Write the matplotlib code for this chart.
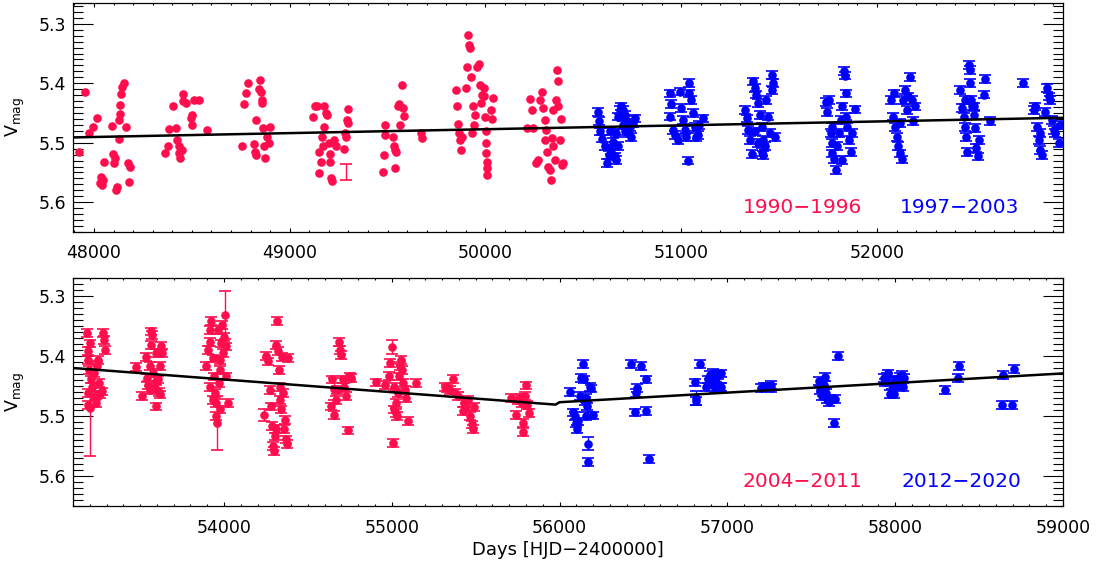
import matplotlib
matplotlib.use('Agg')
import matplotlib.pyplot as plt
from matplotlib.ticker import MultipleLocator, FormatStrFormatter

plt.rcParams['font.family'] = ['DejaVu Sans']
plt.rcParams['mathtext.default'] = 'regular'

red = '#ff0d4d'
blue = '#0000ff'

# ---- top panel: 1990-1996 (red), 1997-2003 (blue) ----
top_red_x = [47923, 47952, 47976, 47997, 48014, 48031, 48039, 48048, 48053, 48036,
             48092, 48099, 48102, 48108, 48114, 48119, 48128, 48130, 48133, 48135,
             48138, 48143, 48154, 48162, 48176, 48184, 48181,
             48363, 48377, 48384, 48406, 48420, 48423, 48432, 48437, 48440, 48449,
             48454, 48457, 48471, 48497, 48502, 48500, 48509, 48539, 48577,
             48758, 48768, 48776, 48785, 48819, 48823, 48828, 48828, 48843, 48850,
             48853, 48858, 48860, 48863, 48867, 48875, 48884, 48893, 48901,
             49118, 49130, 49140, 49148, 49152, 49160, 49174, 49177, 49183, 49191,
             49166, 49169, 49200, 49205, 49208, 49213, 49217, 49225, 49234,
             49276, 49282, 49288, 49294, 49299, 49297,
             49475, 49484, 49487, 49487, 49526, 49531, 49540, 49545, 49536, 49552,
             49560, 49565, 49573, 49577, 49582, 49672, 49676,
             49849, 49857, 49862, 49867, 49871, 49874, 49879, 49901, 49908, 49913,
             49917, 49922, 49927, 49932, 49935, 49939, 49947, 49959, 49969, 49973,
             49977, 49983, 49990, 49993, 49998, 50002, 50003, 50005, 50007, 50008,
             50007, 50027, 50032, 50037,
             50214, 50228, 50236, 50244, 50258, 50270, 50280, 50289, 50295, 50302,
             50304, 50309, 50316, 50321, 50329, 50333, 50338, 50343, 50346, 50355,
             50360, 50363, 50372, 50372, 50380, 50385, 50389, 50394]
top_red_y = [5.516, 5.415, 5.484, 5.474, 5.459, 5.567, 5.571, 5.562, 5.533, 5.557,
             5.471, 5.519, 5.534, 5.526, 5.579, 5.575, 5.494, 5.462, 5.451, 5.437,
             5.418, 5.407, 5.399, 5.473, 5.534, 5.540, 5.566,
             5.518, 5.505, 5.477, 5.439, 5.476, 5.496, 5.506, 5.518, 5.526, 5.512,
             5.418, 5.429, 5.433, 5.459, 5.453, 5.470, 5.428, 5.428, 5.479,
             5.506, 5.435, 5.416, 5.399, 5.502, 5.516, 5.521, 5.462, 5.410, 5.394,
             5.414, 5.428, 5.433, 5.476, 5.506, 5.526, 5.490, 5.501, 5.474,
             5.457, 5.438, 5.438, 5.515, 5.551, 5.532, 5.474, 5.438, 5.450, 5.453,
             5.490, 5.506, 5.501, 5.519, 5.533, 5.560, 5.564, 5.495, 5.506,
             5.511, 5.483, 5.490, 5.462, 5.444, 5.466,
             5.550, 5.520, 5.487, 5.470, 5.490, 5.505, 5.512, 5.515, 5.542, 5.439,
             5.435, 5.470, 5.403, 5.442, 5.455, 5.484, 5.492,
             5.412, 5.439, 5.468, 5.484, 5.495, 5.513, 5.490, 5.408, 5.372, 5.319,
             5.335, 5.341, 5.390, 5.484, 5.439, 5.470, 5.453, 5.372, 5.367, 5.403,
             5.433, 5.419, 5.422, 5.408, 5.456, 5.481, 5.501, 5.518, 5.532, 5.543,
             5.554, 5.445, 5.460, 5.425,
             5.476, 5.427, 5.445, 5.476, 5.534, 5.529, 5.428, 5.414, 5.442, 5.462,
             5.495, 5.478, 5.515, 5.540, 5.546, 5.562, 5.492, 5.445, 5.506, 5.529,
             5.428, 5.377, 5.397, 5.439, 5.495, 5.460, 5.537, 5.534]

# typical error bar drawn once in the top panel
top_ref_x = [49285]
top_ref_y = [5.549]
top_ref_err = [0.013]

top_blue_x = [50576, 50581, 50587, 50594, 50609, 50621, 50631, 50638, 50643, 50652,
              50660, 50669, 50677, 50686, 50694, 50703, 50711, 50720, 50728, 50737,
              50745, 50754, 50762, 50703, 50677, 50669, 50711,
              50944, 50949, 50941, 50958, 50966, 50992, 51000, 51008, 51017, 51025,
              51034, 51042, 51051, 51059, 51068, 51076, 51085, 51093, 51110, 50983, 51042,
              51324, 51334, 51343, 51350, 51359, 51367, 51375, 51384, 51392, 51401,
              51410, 51415, 51418, 51427, 51435, 51444, 51452, 51461, 51461, 51469,
              51478, 51375, 51392, 51410,
              51737, 51746, 51754, 51763, 51768, 51771, 51780, 51788, 51797, 51805,
              51814, 51823, 51831, 51834, 51840, 51848, 51857, 51865, 51874, 51887,
              51823, 51771, 51840,
              52070, 52080, 52087, 52092, 52101, 52109, 52118, 52126, 52135, 52143,
              52152, 52160, 52169, 52177, 52186, 52195, 52118,
              52425, 52433, 52442, 52450, 52455, 52459, 52468, 52473, 52476, 52480,
              52485, 52493, 52502, 52507, 52514, 52519, 52544, 52553, 52575, 52450, 52493,
              52746, 52800, 52809, 52817, 52826, 52834, 52843, 52860, 52868, 52877,
              52885, 52894, 52902, 52911, 52928, 52933, 52834]
top_blue_y = [5.448, 5.464, 5.481, 5.493, 5.505, 5.534, 5.520, 5.481, 5.512, 5.498,
              5.523, 5.484, 5.456, 5.445, 5.439, 5.445, 5.453, 5.462, 5.484, 5.473,
              5.490, 5.467, 5.459, 5.470, 5.506, 5.529, 5.481,
              5.417, 5.435, 5.456, 5.478, 5.487, 5.414, 5.442, 5.462, 5.478, 5.490,
              5.530, 5.417, 5.428, 5.450, 5.473, 5.490, 5.487, 5.470, 5.459, 5.495, 5.400,
              5.445, 5.459, 5.478, 5.495, 5.519, 5.397, 5.408, 5.419, 5.433, 5.453,
              5.473, 5.495, 5.520, 5.506, 5.428, 5.456, 5.484, 5.386, 5.411, 5.400,
              5.490, 5.481, 5.501, 5.515,
              5.431, 5.448, 5.428, 5.484, 5.501, 5.518, 5.528, 5.546, 5.506, 5.484,
              5.462, 5.439, 5.379, 5.387, 5.417, 5.473, 5.495, 5.515, 5.484, 5.444,
              5.529, 5.473, 5.456,
              5.428, 5.456, 5.417, 5.473, 5.490, 5.506, 5.518, 5.528, 5.428, 5.411,
              5.445, 5.422, 5.390, 5.428, 5.464, 5.439, 5.467,
              5.411, 5.442, 5.456, 5.473, 5.490, 5.516, 5.369, 5.378, 5.400, 5.428,
              5.439, 5.453, 5.475, 5.509, 5.523, 5.495, 5.419, 5.393, 5.464, 5.428, 5.439,
              5.400, 5.445, 5.439, 5.473, 5.495, 5.512, 5.520, 5.448, 5.408, 5.422,
              5.428, 5.462, 5.478, 5.484, 5.501, 5.470, 5.484]
top_blue_err = 0.0065

top_fit_x = [47893, 52950]
top_fit_y = [5.491, 5.458]

# ---- bottom panel: 2004-2011 (red), 2012-2020 (blue) ----
bot_red_x = [53185, 53190, 53192, 53196, 53190, 53190, 53204, 53210, 53216, 53223,
             53230, 53240, 53250, 53256, 53260, 53270, 53280, 53284, 53290, 53246,
             53474, 53514, 53534, 53542, 53548, 53558, 53563, 53570, 53567, 53577,
             53587, 53593, 53597, 53607, 53613, 53621, 53627, 53633, 53617, 53597, 53558,
             53895, 53905, 53915, 53925, 53919, 53935, 53938, 53944, 53950, 53954,
             53964, 53970, 53974, 53978, 53984, 53988, 53994, 53998, 54010, 54014,
             54024, 53915, 53935, 53974,
             54252, 54262, 54272, 54282, 54288, 54292, 54298, 54302, 54308, 54315,
             54321, 54327, 54331, 54341, 54347, 54351, 54355, 54361, 54367, 54375,
             54381, 54311, 54331,
             54639, 54645, 54653, 54665, 54673, 54685, 54689, 54698, 54708, 54718,
             54728, 54738, 54748, 54758,
             54907, 54962, 54982, 54990, 55006, 55016, 55022, 55026, 55030, 55036,
             55042, 55046, 55056, 55062, 55066, 55076, 55082, 55095, 55145, 55016,
             55314, 55328, 55344, 55364, 55374, 55394, 55424, 55433, 55443, 55453,
             55463, 55479, 55483, 55487,
             55712, 55742, 55751, 55771, 55777, 55781, 55783, 55791, 55797, 55805, 55817]
bot_red_y = [5.362, 5.392, 5.406, 5.423, 5.462, 5.481, 5.379, 5.439, 5.451, 5.428,
             5.467, 5.478, 5.406, 5.445, 5.464, 5.459, 5.362, 5.373, 5.390, 5.417,
             5.418, 5.466, 5.401, 5.437, 5.448, 5.417, 5.359, 5.365, 5.381, 5.428,
             5.453, 5.484, 5.395, 5.439, 5.460, 5.417, 5.383, 5.395, 5.464, 5.442, 5.456,
             5.417, 5.390, 5.356, 5.341, 5.376, 5.404, 5.434, 5.462, 5.478, 5.500,
             5.356, 5.445, 5.423, 5.406, 5.379, 5.348, 5.395, 5.368, 5.384, 5.434,
             5.478, 5.451, 5.473, 5.489,
             5.400, 5.409, 5.456, 5.484, 5.517, 5.550, 5.558, 5.534, 5.381, 5.341,
             5.392, 5.423, 5.451, 5.489, 5.401, 5.462, 5.522, 5.506, 5.539, 5.547,
             5.403, 5.522, 5.473,
             5.484, 5.439, 5.498, 5.473, 5.456, 5.376, 5.390, 5.398, 5.439, 5.451,
             5.467, 5.524, 5.434, 5.437,
             5.444, 5.448, 5.433, 5.411, 5.545, 5.451, 5.478, 5.495, 5.500, 5.462,
             5.434, 5.417, 5.406, 5.423, 5.445, 5.456, 5.470, 5.508, 5.445, 5.489,
             5.452, 5.454, 5.456, 5.438, 5.462, 5.467, 5.492, 5.478, 5.484, 5.473,
             5.500, 5.514, 5.521, 5.485,
             5.470, 5.498, 5.473, 5.469, 5.478, 5.511, 5.526, 5.466, 5.449, 5.482, 5.495]
bot_red_err = 0.0065

# red points with large error bars
bot_red_big_x = [53200, 53958, 54006, 54238, 55002, 54653]
bot_red_big_y = [5.487, 5.511, 5.332, 5.499, 5.385, 5.455]
bot_red_big_err = [0.079, 0.045, 0.040, 0.010, 0.012, 0.018]

bot_blue_x = [56060, 56080, 56089, 56095, 56103, 56109, 56119, 56129, 56139, 56143,
              56149, 56159, 56165, 56171, 56179, 56189, 56199, 56159,
              56427, 56447, 56457, 56461, 56487, 56513, 56517, 56533,
              56805, 56815, 56835, 56875, 56885, 56895, 56905, 56915, 56925, 56934,
              56944, 56954, 56960, 56960,
              57198, 57218, 57238, 57257, 57257,
              57545, 57554, 57564, 57574, 57584, 57590, 57594, 57604, 57614, 57634,
              57644, 57660, 57570,
              57931, 57941, 57950, 57960, 57970, 57980, 57990, 58000, 58010, 58026,
              58034, 58040, 58046, 58053,
              58297, 58376, 58382, 58634, 58644, 58697, 58709]
bot_blue_y = [5.460, 5.494, 5.500, 5.511, 5.521, 5.509, 5.466, 5.437, 5.413, 5.439,
              5.475, 5.500, 5.484, 5.577, 5.451, 5.454, 5.499, 5.470,
              5.413, 5.494, 5.462, 5.453, 5.416, 5.439, 5.492, 5.571,
              5.444, 5.475, 5.413, 5.451, 5.439, 5.431, 5.447, 5.428, 5.453, 5.437,
              5.431, 5.451, 5.452, 5.429,
              5.453, 5.452, 5.451, 5.453, 5.448,
              5.442, 5.456, 5.467, 5.448, 5.435, 5.461, 5.472, 5.477, 5.472, 5.511,
              5.472, 5.400, 5.460,
              5.437, 5.444, 5.434, 5.429, 5.463, 5.448, 5.463, 5.439, 5.448, 5.434,
              5.442, 5.431, 5.452, 5.437,
              5.456, 5.437, 5.417, 5.481, 5.431, 5.481, 5.421]
bot_blue_err = 0.0065

bot_blue_big_x = [56169, 56811]
bot_blue_big_y = [5.546, 5.470]
bot_blue_big_err = [0.011, 0.012]

bot_fit_x = [53100, 55975, 56000, 59000]
bot_fit_y = [5.420, 5.481, 5.477, 5.429]

fig = plt.figure(figsize=(10.96, 5.64), dpi=100)
ax1 = fig.add_axes([0.0666, 0.5887, 0.9033, 0.406])
ax2 = fig.add_axes([0.0666, 0.1028, 0.9033, 0.4043])

mk = dict(ls='none', marker='o', ms=6.2, mew=0, zorder=2)
eb = dict(fmt='none', elinewidth=1.0, capsize=4.2, capthick=1.2, zorder=3)


def points(ax, x, y, err, color):
    ax.plot(x, y, color=color, **mk)
    ax.errorbar(x, y, yerr=err, ecolor=color, **eb)


ax1.plot(top_red_x, top_red_y, color=red, **mk)
ax1.errorbar(top_ref_x, top_ref_y, yerr=top_ref_err, ecolor=red, **eb)
points(ax1, top_blue_x, top_blue_y, top_blue_err, blue)
ax1.plot(top_fit_x, top_fit_y, color='black', lw=1.8, zorder=4)

points(ax2, bot_red_x, bot_red_y, bot_red_err, red)
points(ax2, bot_red_big_x, bot_red_big_y, bot_red_big_err, red)
points(ax2, bot_blue_x, bot_blue_y, bot_blue_err, blue)
points(ax2, bot_blue_big_x, bot_blue_big_y, bot_blue_big_err, blue)
ax2.plot(bot_fit_x, bot_fit_y, color='black', lw=1.8, zorder=4)

ax1.set_xlim(47893, 52950)
ax1.set_ylim(5.65, 5.265)
ax2.set_xlim(53100, 59000)
ax2.set_ylim(5.65, 5.27)

for ax in (ax1, ax2):
    ax.xaxis.set_major_locator(MultipleLocator(1000))
    ax.xaxis.set_minor_locator(MultipleLocator(100))
    ax.yaxis.set_major_locator(MultipleLocator(0.1))
    ax.yaxis.set_minor_locator(MultipleLocator(0.01))
    ax.yaxis.set_major_formatter(FormatStrFormatter('%.1f'))
    ax.tick_params(axis='x', which='major', direction='in', length=3, width=0.8,
                   top=True, labelsize=12.5, pad=9)
    ax.tick_params(axis='x', which='minor', direction='in', length=1.5, width=0.8, top=True)
    ax.tick_params(axis='y', which='major', direction='in', length=14.4, width=0.8,
                   right=True, labelsize=12.5, pad=5)
    ax.tick_params(axis='y', which='minor', direction='in', length=7.2, width=0.8, right=True)
    for s in ax.spines.values():
        s.set_linewidth(0.9)
    ax.set_ylabel('V$_{mag}$', fontsize=12.5)
    ax.yaxis.set_label_coords(-0.046, 0.5)

ax1.text(0.737, 0.109, '1990\u22121996', color=red, fontsize=14.5,
         ha='center', va='center', transform=ax1.transAxes)
ax1.text(0.8955, 0.109, '1997\u22122003', color=blue, fontsize=14.5,
         ha='center', va='center', transform=ax1.transAxes)
ax2.text(0.737, 0.107, '2004\u22122011', color=red, fontsize=14.5,
         ha='center', va='center', transform=ax2.transAxes)
ax2.text(0.897, 0.107, '2012\u22122020', color=blue, fontsize=14.5,
         ha='center', va='center', transform=ax2.transAxes)

ax2.set_xlabel('Days [HJD\u22122400000]', fontsize=13)
ax2.xaxis.set_label_coords(0.5, -0.153)
ax2.xaxis.label.set_va('top')

fig.savefig('out.png', dpi=100)
